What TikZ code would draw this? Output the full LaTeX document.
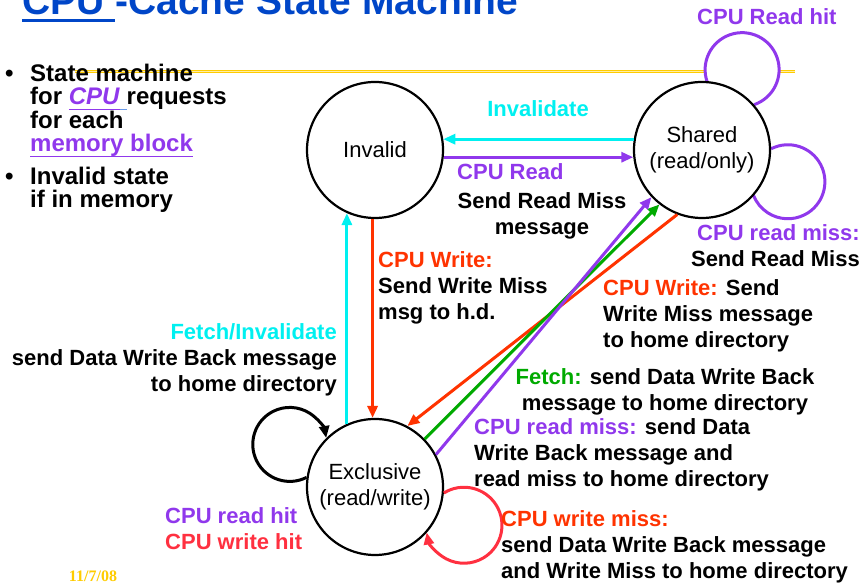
\documentclass[tikz,border=0pt]{standalone}
\usepackage{fontspec}
\setmainfont{Liberation Sans}
\newfontfamily\datefont{Liberation Serif}
\usetikzlibrary{arrows.meta,backgrounds}
\definecolor{fsmblue}{HTML}{0046C8}
\definecolor{fsmpurple}{HTML}{9038EC}
\definecolor{fsmcyan}{HTML}{00F0F0}
\definecolor{fsmred}{HTML}{FF3300}
\definecolor{fsmpink}{HTML}{FF3040}
\definecolor{fsmgreen}{HTML}{00AA00}
\definecolor{fsmyellow}{HTML}{FFCC00}
\definecolor{fsmlink}{HTML}{6A9BEA}
% underline with own depth and thickness
\newcommand\fsmul[3]{\leavevmode\setbox0=\hbox{#3}\rlap{\rule[#1]{\wd0}{#2}}\box0}

\begin{document}
\begin{tikzpicture}[x=1pt,y=1pt,
    state/.style={circle,draw,line width=2.2pt,fill=white,minimum size=136pt,inner sep=0pt,align=center,font=\fontsize{22}{26}\selectfont},
    lab/.style={font=\fontsize{22}{26}\selectfont\bfseries,inner sep=0pt},
    bul/.style={font=\fontsize{24}{23.5}\selectfont\bfseries,inner sep=0pt},
    trans/.style={line width=3pt,-{Triangle[length=12pt,width=10pt]}},
    selfloop/.style={line width=3pt}]
    \useasboundingbox (0,0) rectangle (865,583);
    % title and notes
    \node[font=\fontsize{39}{40}\selectfont\bfseries,fsmblue,anchor=base west,inner sep=0pt] (title) at (22,568) {\fsmul{-7pt}{3pt}{CPU\ }-Cache State Machine};
    \node[bul,anchor=base west] (dot1) at (5,501) {•};
    \node[bul,anchor=base west] (dot2) at (5,398) {•};
    \node[bul,align=left,anchor=base west] (note1) at (30,431) {State machine\\for \textcolor{fsmpurple}{\fsmul{-5.5pt}{1.8pt}{\textit{CPU}}}\textcolor{fsmlink}{\fsmul{-5.5pt}{1.8pt}{\ }}requests\\for each\\\textcolor{fsmpurple}{\fsmul{-5.5pt}{1.8pt}{memory block}}};
    \node[bul,align=left,anchor=base west] (note2) at (30,375) {Invalid state\\if in memory};
    \node[font=\datefont\fontsize{16}{16}\selectfont\bfseries,fsmyellow,anchor=base,inner sep=0pt] (date) at (93,1) {11/7/08};
    % states
    \node[state] (invalid) at (375,433) {Invalid};
    \node[state] (shared) at (702,433) {Shared\\(read/only)};
    \node[state] (excl) at (375,96) {Exclusive\\(read/write)};
    \begin{scope}[on background layer]
      \draw[fsmyellow,line width=1.3pt,double=fsmyellow!35,double distance=0.8pt] (75,511.5) -- (795,511.5);
      \draw[selfloop,fsmpurple,fill=white] (shared.41) arc[start angle=-71,end angle=199,radius=37];
      \draw[selfloop,fsmpurple] (shared.1) arc[start angle=117,end angle=-159,radius=37];
    \end{scope}
    % transitions
    \draw[trans,fsmcyan] (shared.171) -- (invalid.9);
    \draw[trans,fsmpurple] (invalid.-6) -- (shared.186);
    \draw[trans,fsmcyan] (excl.114) -- (invalid.246);
    \draw[trans,fsmred] (invalid.268) -- (excl.92);
    \draw[trans,fsmred] (shared.249) -- (excl.62);
    \draw[trans,fsmgreen] (excl.44) -- (shared.232);
    \draw[trans,fsmpurple] (excl.28) -- (shared.223);
    \draw[selfloop,-{Triangle[length=12pt,width=10pt]}] (excl.172) arc[start angle=-63,end angle=-350,radius=37];
    \draw[selfloop,fsmpink,-{Triangle[length=12pt,width=10pt]}] (excl.-5) arc[start angle=122,end angle=-169,radius=38];
    % labels
    \node[lab,fsmpurple,anchor=base west] (readhit) at (697,558) {CPU Read hit};
    \node[lab,fsmcyan,anchor=base] (invlab) at (538,466) {Invalidate};
    \node[lab,fsmpurple,anchor=base west] (rdlab) at (457,403) {CPU Read};
    \node[lab,align=center,anchor=base] (rdmsg) at (542,348) {Send Read Miss\\message};
    \node[lab,align=left,anchor=base west] (wrlab) at (378,263) {\textcolor{fsmred}{CPU Write:}\\Send Write Miss\\msg to h.d.};
    \node[lab,align=right,anchor=base east] (rmlab) at (860,316) {\textcolor{fsmpurple}{CPU read miss:}\\Send Read Miss};
    \node[lab,align=left,anchor=base west] (wmlab) at (603,235) {\textcolor{fsmred}{CPU Write:} Send\\Write Miss message\\to home directory};
    \node[lab,align=center,anchor=base] (fetchlab) at (665,172) {\textcolor{fsmgreen}{Fetch:} send Data Write Back\\message to home directory};
    \node[lab,align=left,anchor=base west] (xrmlab) at (474,96) {\textcolor{fsmpurple}{CPU read miss:} send Data\\Write Back message and\\read miss to home directory};
    \node[lab,align=right,anchor=base east] (filab) at (337,191) {\textcolor{fsmcyan}{Fetch/Invalidate}\\send Data Write Back message\\to home directory};
    \node[lab,align=left,anchor=base west] (hitlab) at (165,33) {\textcolor{fsmpurple}{CPU read hit}\\\textcolor{fsmpink}{CPU write hit}};
    \node[lab,align=left,anchor=base west] (wmisslab) at (501,4) {\textcolor{fsmred}{CPU write miss:}\\send Data Write Back message\\and Write Miss to home directory};
\end{tikzpicture}
\end{document}
